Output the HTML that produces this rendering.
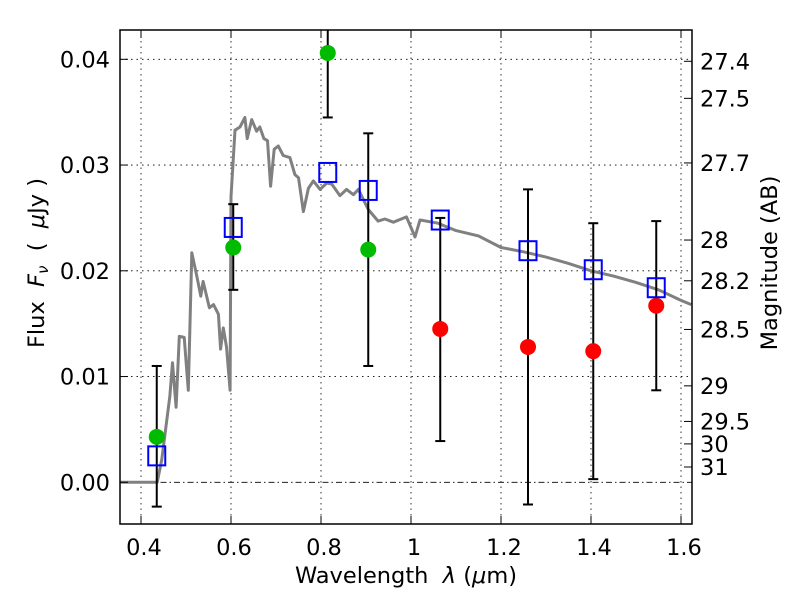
<!DOCTYPE html>
<html><head><meta charset="utf-8"><style>
body{margin:0;background:#fff}
svg text{font-family:"DejaVu Sans","Liberation Sans",sans-serif;font-size:22.5px;fill:#000}
</style></head><body>
<svg id="chart" width="800" height="600">
<g id="grid"></g>
<g id="spec"></g>
<g id="marks"></g>
<rect x="120" y="30" width="572" height="494" fill="none" stroke="#000" stroke-width="1.5"/>
<g id="axes"></g>
<text x="406" y="583" text-anchor="middle" xml:space="preserve">Wavelength  <tspan font-style="italic">λ</tspan> (<tspan font-style="italic">μ</tspan>m)</text>
<text transform="translate(44,263) rotate(-90)" text-anchor="middle" xml:space="preserve">Flux  <tspan font-style="italic">F</tspan><tspan font-style="italic" font-size="15" dy="4">ν</tspan><tspan dy="-4">  (  </tspan><tspan font-style="italic">μ</tspan>Jy )</text>
<text transform="translate(777,263) rotate(-90)" text-anchor="middle">Magnitude (AB)</text>
</svg>
<script>
const xTicks=[0.4,0.6,0.8,1.0,1.2,1.4,1.6];
const xTickLabels=["0.4","0.6","0.8","1","1.2","1.4","1.6"];
const yTicks=[0,0.01,0.02,0.03,0.04];
const yTickLabels=["0.00","0.01","0.02","0.03","0.04"];
const magTicks=[27.4,27.5,27.7,28,28.2,28.5,29,29.5,30,31];
const bandLambda=[0.435,0.605,0.815,0.905,1.065,1.26,1.405,1.545];
const obsFlux=[0.0043,0.0222,0.0406,0.0220,0.0145,0.0128,0.0124,0.0167];
const obsColor=["#00bb00","#00bb00","#00bb00","#00bb00","#ff0000","#ff0000","#ff0000","#ff0000"];
const errLow=[-0.0023,0.0182,0.0345,0.011,0.0039,-0.0021,0.0003,0.0087];
const errHigh=[0.011,0.0263,0.0440,0.033,0.025,0.0277,0.0245,0.0247];
const modelFlux=[0.0025,0.0241,0.0293,0.0276,0.0248,0.0219,0.0201,0.0184];
const specLambda=[0.353,0.436,0.446,0.464,0.470,0.478,0.485,0.496,0.505,0.513,0.524,0.533,0.538,0.552,0.561,0.572,0.577,0.583,0.590,0.598,0.600,0.609,0.620,0.631,0.636,0.646,0.657,0.664,0.673,0.681,0.688,0.696,0.705,0.716,0.731,0.742,0.750,0.761,0.772,0.783,0.798,0.813,0.824,0.842,0.857,0.872,0.883,0.905,0.927,0.942,0.961,0.990,1.009,1.02,1.06,1.1,1.15,1.2,1.25,1.3,1.35,1.4,1.45,1.5,1.55,1.6,1.623];
const specFlux=[0,0,0.0021,0.0081,0.0113,0.0071,0.0138,0.0137,0.0087,0.0217,0.0195,0.0176,0.019,0.0165,0.0168,0.0159,0.0126,0.0146,0.0128,0.0087,0.027,0.0333,0.0336,0.0345,0.0325,0.0343,0.0332,0.0336,0.0325,0.0323,0.028,0.0315,0.0318,0.0309,0.0307,0.0291,0.0288,0.0256,0.0278,0.0285,0.0277,0.0283,0.0282,0.0271,0.0277,0.0272,0.0277,0.0258,0.0247,0.0249,0.0246,0.0251,0.0232,0.0248,0.0245,0.0238,0.0233,0.0222,0.0218,0.0213,0.0207,0.0200,0.0195,0.0189,0.0182,0.0172,0.0168];
const NS="http://www.w3.org/2000/svg";
const X=v=>141+(v-0.4)*450;
const Y=v=>482.3-v*10575;
function mk(p,t,a){const e=document.createElementNS(NS,t);for(const k in a)e.setAttribute(k,a[k]);p.appendChild(e);return e;}
const grid=document.getElementById('grid'),axes=document.getElementById('axes'),spec=document.getElementById('spec'),marks=document.getElementById('marks');
xTicks.forEach((v,i)=>{
  const g=mk(grid,'line',{x1:X(v),x2:X(v),y1:30,y2:524,stroke:'#000','stroke-width':0.8,'stroke-dasharray':'1.5,4'});
  
  
  mk(axes,'line',{x1:X(v),x2:X(v),y1:524,y2:516,stroke:'#000'});
  mk(axes,'line',{x1:X(v),x2:X(v),y1:30,y2:38,stroke:'#000'});
  const t=mk(axes,'text',{x:X(v)+3,y:555,'text-anchor':'middle'});t.textContent=xTickLabels[i];
  
  
});
yTicks.forEach((v,i)=>{
  const g=mk(grid,'line',{x1:120,x2:692,y1:Y(v),y2:Y(v),stroke:'#000','stroke-width':0.8,'stroke-dasharray':v===0?'6,3,1.5,3':'1.5,4'});
  
  
  mk(axes,'line',{x1:120,x2:128,y1:Y(v),y2:Y(v),stroke:'#000'});
  const t=mk(axes,'text',{x:110,y:Y(v)+8,'text-anchor':'end'});t.textContent=yTickLabels[i];
  
  
});
magTicks.forEach(m=>{
  const f=Math.pow(10,(23.9-m)/2.5);const y=Y(f);
  mk(axes,'line',{x1:684,x2:692,y1:y,y2:y,stroke:'#000'});
  const t=mk(axes,'text',{x:700,y:y+8});t.textContent=String(m);
  
  
});
const pts=specLambda.map((l,i)=>X(l).toFixed(1)+','+Y(specFlux[i]).toFixed(1)).join(' ');
const pl=mk(spec,'polyline',{points:pts,fill:'none',stroke:'#808080','stroke-width':3,'stroke-linejoin':'round'});


bandLambda.forEach((l,i)=>{
  const x=X(l);
  const eb=mk(marks,'g',{});
  
  
  const hi=Math.max(Y(errHigh[i]),30);
  mk(eb,'line',{x1:x,x2:x,y1:Y(errLow[i]),y2:hi,stroke:'#000','stroke-width':2});
  mk(eb,'line',{x1:x-5,x2:x+5,y1:Y(errLow[i]),y2:Y(errLow[i]),stroke:'#000','stroke-width':2});
  if(Y(errHigh[i])>30)mk(eb,'line',{x1:x-5,x2:x+5,y1:Y(errHigh[i]),y2:Y(errHigh[i]),stroke:'#000','stroke-width':2});
  const c=mk(marks,'circle',{cx:x,cy:Y(obsFlux[i]),r:8,fill:obsColor[i]});
  
  
  const s=mk(marks,'rect',{x:x-8.5,y:Y(modelFlux[i])-9.5,width:17,height:19,fill:'none',stroke:'#0000ff','stroke-width':2});
  
  
});
</script>
</body></html>
